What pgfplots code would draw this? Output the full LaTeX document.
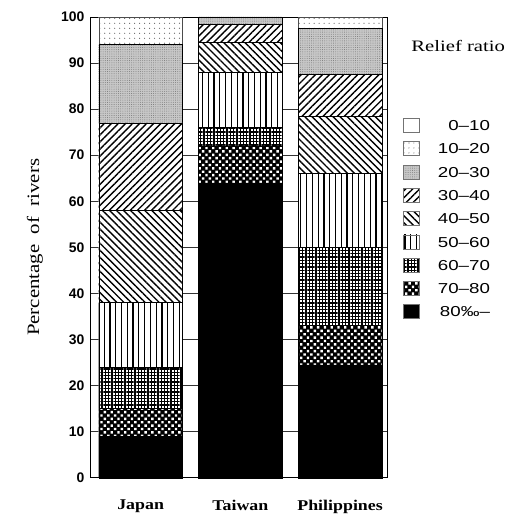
\documentclass[border=0pt]{standalone}
\usepackage{pgfplots}
\pgfplotsset{compat=1.18}
\usetikzlibrary{patterns,patterns.meta}
\usepackage{fontspec}
\setmainfont[Ligatures=TeX]{Liberation Serif}
\newfontfamily\arial[Ligatures=TeX]{Liberation Sans}
\newfontfamily\arialw[Ligatures=TeX,FakeStretch=1.3]{Liberation Sans}
\newfontfamily\timesw[Ligatures=TeX,FakeStretch=1.2]{Liberation Serif}
\newfontfamily\timeswl[Ligatures=TeX,FakeStretch=1.3]{Liberation Serif}
\begin{document}
\begin{tikzpicture}
\begin{axis}[
  name=ax,
  scale only axis, width=297bp, height=462bp,
  clip=false,
  ybar stacked, bar width=0.84,
  xmin=-0.5, xmax=2.47, ymin=0, ymax=100,
  xtick={0,1,2}, xticklabels={Japan,Taiwan,Philippines},
  ytick={0,10,...,100},
  /pgf/number format/assume math mode=true,
  yticklabel style={font=\arial\bfseries\fontsize{14}{16}\selectfont, xshift=-3bp},
  xticklabel style={font=\timesw\bfseries\fontsize{15}{18}\selectfont, yshift=-19bp},
  tick style={draw=none},
  ymajorgrids, grid style={black!80, line width=0.5pt},
  axis line style={black, line width=0.7pt},
  ylabel={Percentage\ \ of\ \ rivers},
  ylabel style={font=\timesw\fontsize{17.5}{20}\selectfont, at={(rel axis cs:-0.15,0.5)}},
  legend cell align=right,
  reverse legend,
  legend style={at={(1.045,0.785)}, anchor=north west, draw=none, fill=none,
    font=\arialw\fontsize{14.5}{16}\selectfont, row sep=8.3bp,
    nodes={inner sep=1pt},
    /tikz/every odd column/.append style={column sep=17bp}},
  legend image code/.code={\draw[#1, draw=black!55, line width=0.5pt] (0bp,-6bp) rectangle (16bp,8bp);},
]
% 80- (solid black)
\addplot[draw=black, fill=black] coordinates {(0,9) (1,64) (2,24.5)};
% 70-80
\addplot[draw=black, fill=black, postaction={pattern={Dots[angle=45, distance=4.8bp, radius=1.7bp]}, pattern color=white}] coordinates {(0,6) (1,8) (2,8.5)};
% 60-70
\addplot[draw=black, fill=white, postaction={pattern={Hatch[angle=0, distance=3.3bp, line width=1.3bp]}, pattern color=black}] coordinates {(0,9) (1,4) (2,17)};
% 50-60
\addplot[draw=black, fill=white, postaction={pattern={Lines[angle=90, distance=5.8bp, line width=1.2bp]}, pattern color=black}] coordinates {(0,14) (1,12) (2,16)};
% 40-50
\addplot[draw=black, fill=white, postaction={pattern={Lines[angle=-45, distance=5bp, line width=1.4bp]}, pattern color=black}] coordinates {(0,20) (1,6.5) (2,12.5)};
% 30-40
\addplot[draw=black, fill=white, postaction={pattern={Lines[angle=45, distance=5bp, line width=1.4bp]}, pattern color=black}] coordinates {(0,19) (1,4) (2,9)};
% 20-30
\addplot[draw=black, fill=black!22, postaction={pattern={Dots[distance=2.2bp, radius=0.45bp]}, pattern color=black!55}] coordinates {(0,17) (1,1.5) (2,10)};
% 10-20
\addplot[draw=black!70, fill=white, postaction={pattern={Dots[distance=5bp, radius=0.6bp]}, pattern color=black!60}] coordinates {(0,6) (1,0) (2,2.5)};
% 0-10
\addplot[draw=black!70, fill=white] coordinates {(0,0) (1,0) (2,0)};
\legend{80‰–,70–80,60–70,50–60,40–50,30–40,20–30,10–20,0–10}
\end{axis}
\node[font=\timeswl\fontsize{16}{18}\selectfont, anchor=west] at ([xshift=21bp,yshift=-29bp]ax.north east) {Relief ratio};
\path[use as bounding box] ([xshift=-91bp,yshift=-38bp]ax.south west) rectangle ([xshift=125bp,yshift=17bp]ax.north east);
\end{tikzpicture}
\end{document}
